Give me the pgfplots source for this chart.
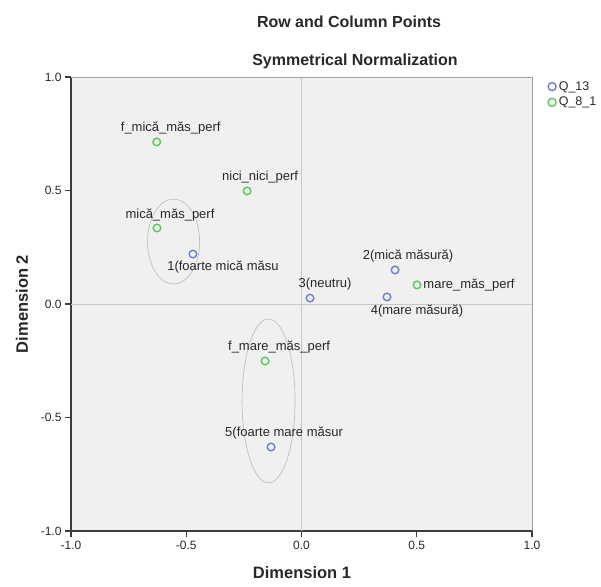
\documentclass[border=0pt]{standalone}
\usepackage{fontspec}
\setmainfont{Liberation Sans}
\usepackage{pgfplots}
\pgfplotsset{compat=1.18}
\usepackage{pgfplotstable}
\definecolor{bgc}{RGB}{240,240,240}
\definecolor{qblue}{RGB}{108,128,204}
\definecolor{qgreen}{RGB}{88,200,88}
\definecolor{zline}{RGB}{200,200,200}
\definecolor{axc}{RGB}{60,60,60}
\definecolor{txt}{RGB}{40,40,40}

\pgfplotstableread[col sep=comma]{
x,y,lab,dx,dy
-0.471,0.220,1(foarte mică măsu,30,-13
0.406,0.150,2(mică măsură),13,14
0.037,0.026,3(neutru),15,14
0.371,0.031,4(mare măsură),30,-14
-0.132,-0.630,5(foarte mare măsur,13,14
}\qa

\pgfplotstableread[col sep=comma]{
x,y,lab,dx,dy
-0.628,0.714,f\_mică\_măs\_perf,14,14
-0.236,0.498,nici\_nici\_perf,13,14
-0.627,0.335,mică\_măs\_perf,13,13
0.501,0.084,mare\_măs\_perf,52,0
-0.158,-0.251,f\_mare\_măs\_perf,14,14
}\qb

\begin{document}
\begin{tikzpicture}[x=1pt,y=1pt]
\begin{axis}[
  at={(0,0)}, anchor=south west,
  scale only axis, width=461pt, height=454pt,
  xmin=-1, xmax=1, ymin=-1, ymax=1,
  enlargelimits=false,
  xtick={-1,-0.5,0,0.5,1}, ytick={-1,-0.5,0,0.5,1},
  axis lines*=left,
  axis line style={-,axc,line width=1.5pt},
  tick align=outside, major tick length=6pt,
  tick style={axc,line width=1.2pt},
  ticklabel style={font=\fontsize{12}{14}\selectfont, text=txt},
  xticklabel style={yshift=-1pt},
  /pgf/number format/.cd, fixed, fixed zerofill, precision=1, assume math mode=true,
  /pgfplots/.cd,
  axis background/.style={fill=bgc},
  clip=false,
  legend style={at={(1.033,0.995)}, anchor=north west, draw=none, fill=none,
    font=\fontsize{12.5}{14}\selectfont, inner sep=0pt, row sep=1.5pt, text=txt},
  legend cell align=left,
  legend image code/.code={\draw[#1, line width=1.4pt] (0.3em,0) circle (4pt);},
]
\draw[zline, line width=0.8pt] (axis cs:0,-1) -- (axis cs:0,1);
\draw[zline, line width=0.8pt] (axis cs:-1,0) -- (axis cs:1,0);
\draw[gray!75, line width=0.8pt] (rel axis cs:0,1) -- (rel axis cs:1,1) -- (rel axis cs:1,0);
\draw[gray!55, line width=0.6pt] (axis cs:-0.555,0.275) ellipse [x radius=0.113, y radius=0.187];
\draw[gray!55, line width=0.6pt] (axis cs:-0.143,-0.427) ellipse [x radius=0.115, y radius=0.361];

\addplot[only marks, mark=o, mark size=3.8pt, qblue, mark options={line width=1.4pt},
  point meta=explicit symbolic,
  nodes near coords,
  visualization depends on={\thisrow{dx}\as\dx},
  visualization depends on={\thisrow{dy}\as\dy},
  every node near coord/.append style={font=\fontsize{13}{14}\selectfont, text=txt,
    anchor=center, xshift=\dx pt, yshift=\dy pt},
] table[x=x,y=y,meta=lab] {\qa};
\addlegendentry{Q\_13}

\addplot[only marks, mark=o, mark size=3.8pt, qgreen, mark options={line width=1.4pt},
  point meta=explicit symbolic,
  nodes near coords,
  visualization depends on={\thisrow{dx}\as\dx},
  visualization depends on={\thisrow{dy}\as\dy},
  every node near coord/.append style={font=\fontsize{13}{14}\selectfont, text=txt,
    anchor=center, xshift=\dx pt, yshift=\dy pt},
] table[x=x,y=y,meta=lab] {\qb};
\addlegendentry{Q\_8\_1}
\end{axis}
\node[font=\bfseries\fontsize{16}{19}\selectfont, text=txt] at (278,509) {Row and Column Points};
\node[font=\bfseries\fontsize{16}{19}\selectfont, text=txt] at (284,470) {Symmetrical Normalization};
\node[font=\bfseries\fontsize{16.5}{19}\selectfont, text=txt] at (231,-42) {Dimension 1};
\node[font=\bfseries\fontsize{16.5}{19}\selectfont, text=txt, rotate=90] at (-49,227) {Dimension 2};
\path[use as bounding box] (-71,-55) rectangle (530,531);
\end{tikzpicture}
\end{document}
